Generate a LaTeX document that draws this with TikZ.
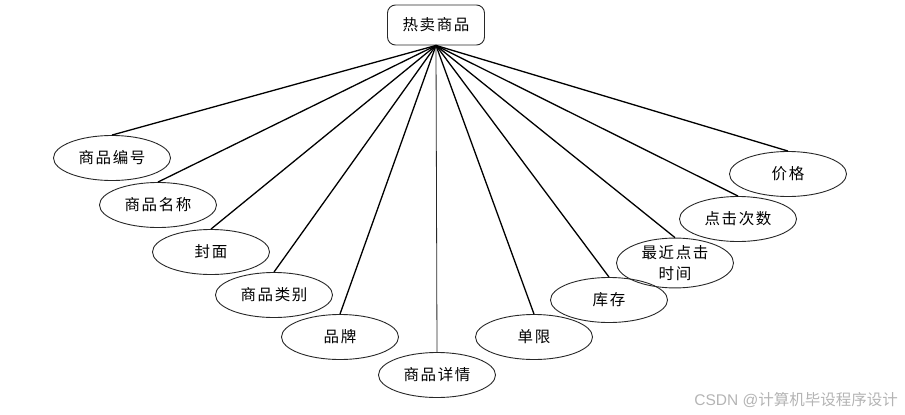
\documentclass[tikz,border=0pt]{standalone}
\usepackage{fontspec}
\usepackage{xcolor}
\usepackage{tikz}
\usetikzlibrary{shapes.geometric,positioning}
\setmainfont{Noto Sans CJK SC}
\newfontfamily\cnfont[LetterSpace=10]{Noto Sans CJK SC}
\newfontfamily\latinfont{Liberation Sans}
\definecolor{edgegray}{RGB}{40,40,40}
\definecolor{markgray}{RGB}{180,180,180}

\begin{document}
\begin{tikzpicture}[x=1pt,y=-1pt,
    entity/.style={rectangle, draw=edgegray, line width=0.9pt, rounded corners=8pt, minimum width=97pt, minimum height=40pt, inner sep=0pt, font=\fontsize{15.5}{21}\cnfont},
    attr/.style={ellipse, draw=edgegray, line width=0.9pt, minimum width=117pt, minimum height=45pt, inner sep=0pt, align=center, font=\fontsize{15.5}{21}\cnfont},
    link/.style={line width=1.3pt, black}
  ]
    \useasboundingbox (0,0) rectangle (905,415);

    \node[entity] (hot) at (436,25) {热卖商品};

    \node[attr] (bianhao) at (112,158) {商品编号};
    \node[attr] (mingcheng) at (158,205) {商品名称};
    \node[attr] (fengmian) at (211,252) {封面};
    \node[attr] (leibie) at (274,295) {商品类别};
    \node[attr] (pinpai) at (340,337) {品牌};
    \node[attr] (xiangqing) at (437,375) {商品详情};
    \node[attr] (danxian) at (534,337) {单限};
    \node[attr] (kucun) at (609,300) {库存};
    \node[attr] (shijian) at (675,263) {最近点击\\时间};
    \node[attr] (cishu) at (738,219) {点击次数};
    \node[attr] (jiage) at (788,174) {价格};

    \draw[link] (hot.south) -- (bianhao.north);
    \draw[link] (hot.south) -- (mingcheng.north);
    \draw[link] (hot.south) -- (fengmian.north);
    \draw[link] (hot.south) -- (leibie.north);
    \draw[link] (hot.south) -- (pinpai.north);
    \draw[link, line width=0.8pt, edgegray] (hot.south) -- (xiangqing.north);
    \draw[link] (hot.south) -- (danxian.north);
    \draw[link] (hot.south) -- (kucun.north);
    \draw[link] (hot.south) -- (shijian.north);
    \draw[link] (hot.south) -- (cishu.north);
    \draw[link] (hot.south) -- (jiage.north);

    % watermark
    \node[anchor=east, text=markgray, font=\fontsize{15.5}{17}\selectfont, inner sep=0pt] (mark) at (898,400) {{\latinfont CSDN @}计算机毕设程序设计};
  \end{tikzpicture}
\end{document}
